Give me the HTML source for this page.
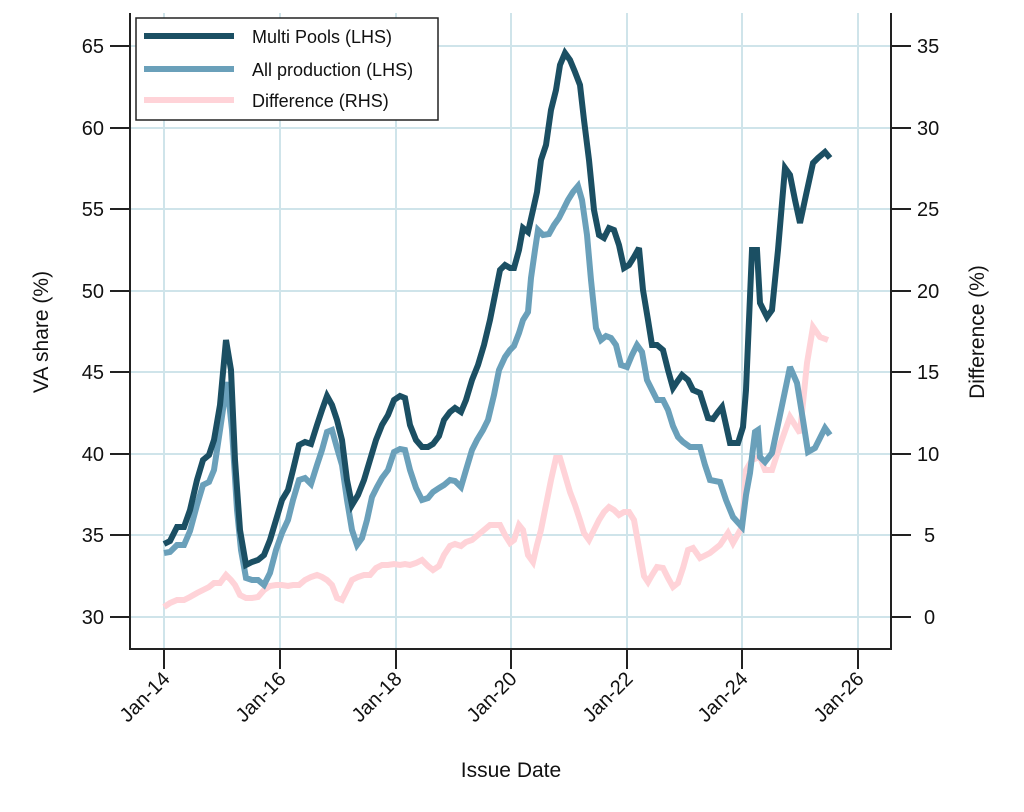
<!DOCTYPE html>
<html><head><meta charset="utf-8"><style>
html,body{margin:0;padding:0;background:#fff;}
svg{display:block;font-family:"Liberation Sans",sans-serif;}
</style></head><body>
<svg width="1024" height="812" viewBox="0 0 1024 812">
<g stroke="#cfe4ea" stroke-width="2">
<line x1="164" y1="13" x2="164" y2="649"/><line x1="280" y1="13" x2="280" y2="649"/><line x1="396" y1="13" x2="396" y2="649"/><line x1="511" y1="13" x2="511" y2="649"/><line x1="627" y1="13" x2="627" y2="649"/><line x1="742" y1="13" x2="742" y2="649"/><line x1="858" y1="13" x2="858" y2="649"/>
<line x1="130" y1="46" x2="891" y2="46"/><line x1="130" y1="128" x2="891" y2="128"/><line x1="130" y1="209" x2="891" y2="209"/><line x1="130" y1="291" x2="891" y2="291"/><line x1="130" y1="372" x2="891" y2="372"/><line x1="130" y1="454" x2="891" y2="454"/><line x1="130" y1="535" x2="891" y2="535"/><line x1="130" y1="617" x2="891" y2="617"/>
</g>
<g stroke="#222" stroke-width="2" fill="none">
<polyline points="130,13 130,649 891,649 891,13"/>
<line x1="110" y1="46" x2="130" y2="46"/><line x1="110" y1="128" x2="130" y2="128"/><line x1="110" y1="209" x2="130" y2="209"/><line x1="110" y1="291" x2="130" y2="291"/><line x1="110" y1="372" x2="130" y2="372"/><line x1="110" y1="454" x2="130" y2="454"/><line x1="110" y1="535" x2="130" y2="535"/><line x1="110" y1="617" x2="130" y2="617"/>
<line x1="891" y1="46" x2="911" y2="46"/><line x1="891" y1="128" x2="911" y2="128"/><line x1="891" y1="209" x2="911" y2="209"/><line x1="891" y1="291" x2="911" y2="291"/><line x1="891" y1="372" x2="911" y2="372"/><line x1="891" y1="454" x2="911" y2="454"/><line x1="891" y1="535" x2="911" y2="535"/><line x1="891" y1="617" x2="911" y2="617"/>
<line x1="164" y1="649" x2="164" y2="669"/><line x1="280" y1="649" x2="280" y2="669"/><line x1="396" y1="649" x2="396" y2="669"/><line x1="511" y1="649" x2="511" y2="669"/><line x1="627" y1="649" x2="627" y2="669"/><line x1="742" y1="649" x2="742" y2="669"/><line x1="858" y1="649" x2="858" y2="669"/>
</g>
<g font-size="20" fill="#111" text-anchor="end">
<text x="104" y="53">65</text><text x="104" y="135">60</text><text x="104" y="216">55</text><text x="104" y="298">50</text><text x="104" y="379">45</text><text x="104" y="461">40</text><text x="104" y="542">35</text><text x="104" y="624">30</text>
</g>
<g font-size="20" fill="#111" text-anchor="start">
<text x="917" y="53">35</text><text x="917" y="135">30</text><text x="917" y="216">25</text><text x="917" y="298">20</text><text x="917" y="379">15</text><text x="917" y="461">10</text><text x="924" y="542">5</text><text x="924" y="624">0</text>
</g>
<g font-size="20" fill="#111" text-anchor="end">
<text transform="translate(171,680) rotate(-45)">Jan-14</text>
<text transform="translate(287,680) rotate(-45)">Jan-16</text>
<text transform="translate(403,680) rotate(-45)">Jan-18</text>
<text transform="translate(518,680) rotate(-45)">Jan-20</text>
<text transform="translate(634,680) rotate(-45)">Jan-22</text>
<text transform="translate(749,680) rotate(-45)">Jan-24</text>
<text transform="translate(865,680) rotate(-45)">Jan-26</text>
</g>
<text x="511" y="777" font-size="21" text-anchor="middle" fill="#111">Issue Date</text>
<text transform="translate(48,332) rotate(-90)" font-size="21" text-anchor="middle" fill="#111">VA share (%)</text>
<text transform="translate(984,332) rotate(-90)" font-size="21" text-anchor="middle" fill="#111">Difference (%)</text>
<g fill="none" stroke-width="6" stroke-linejoin="miter" stroke-miterlimit="3">
<polyline stroke="#ffd3d8" points="164,607 170,603 177,600 184,600 190,597 197,593 203,590 209,587 214,583 220,583 226,575 231,580 235,585 240,595 246,598 252,598 258,597 264,590 270,586 276,585 282,585 288,586 293,585 299,585 305,580 311,577 317,575 322,577 327,580 332,585 337,598 342,600 347,590 352,580 358,577 364,575 370,575 376,568 382,565 388,565 394,564 400,565 405,564 410,565 416,563 422,560 428,566 433,570 439,566 444,555 450,546 455,544 461,546 466,542 472,540 478,535 484,530 490,525 495,525 500,525 505,535 510,543 514,540 519,525 523,530 528,555 533,562 537,545 541,530 546,505 551,480 556,458 560,458 565,475 570,492 575,505 580,520 584,533 589,540 594,530 599,520 604,512 609,507 614,510 619,515 624,512 629,512 634,520 639,548 644,576 648,582 652,575 657,567 663,568 668,578 673,587 678,583 683,568 688,550 693,548 700,558 710,553 720,545 728,533 733,543 742,527 746,470 752,460 760,457 765,470 772,470 780,445 790,417 800,433 807,363 813,327 820,337 828,340"/>
<polyline stroke="#6aa0ba" points="164,553 170,552 177,545 184,545 190,531 197,505 203,485 209,482 214,470 220,430 227,382 232,430 237,510 241,550 246,578 252,580 258,580 264,585 270,573 276,550 282,533 288,520 293,500 299,480 305,478 311,484 317,465 322,450 327,432 332,430 337,448 342,465 347,500 352,530 357,545 362,538 367,520 372,497 377,487 382,478 388,470 394,452 400,449 405,450 410,470 416,488 422,500 428,498 433,492 439,488 444,485 450,480 455,481 461,487 466,470 472,450 477,440 483,430 488,420 494,395 499,370 505,357 510,350 514,346 519,333 523,320 528,312 531,278 535,250 538,230 543,235 549,234 554,225 559,218 563,210 568,200 573,192 578,186 582,200 587,235 591,280 596,328 601,340 606,336 611,338 616,345 621,365 627,367 632,355 637,345 642,352 647,380 652,390 657,400 663,400 668,410 673,426 678,437 683,442 690,447 700,447 705,465 710,480 720,482 726,500 733,517 742,527 746,495 750,473 755,432 758,430 760,457 765,462 772,453 780,415 790,367 797,383 803,420 808,452 815,448 820,438 825,428 830,435"/>
<polyline stroke="#1b4f63" points="164,544 170,541 177,527 184,527 190,510 197,480 203,460 209,455 214,440 220,405 226,340 231,370 235,460 240,530 246,565 252,562 258,560 264,555 270,540 276,520 282,500 288,490 293,470 299,445 305,442 311,444 317,425 322,410 327,396 332,405 337,420 342,440 347,480 352,505 358,495 364,480 370,460 376,440 382,425 388,415 394,400 400,396 405,398 410,425 416,440 422,447 428,447 433,444 439,436 444,420 450,412 455,408 461,412 466,400 472,380 478,365 484,345 490,320 495,295 500,270 505,265 510,268 514,268 519,250 523,228 528,232 533,210 537,192 541,160 546,145 551,110 556,90 560,65 565,53 570,60 575,72 580,85 584,120 589,160 594,210 599,235 604,238 609,228 614,230 619,245 624,268 629,265 634,257 639,248 643,290 648,320 652,345 657,345 663,350 668,370 673,388 677,382 682,375 688,380 693,390 700,393 708,418 713,419 718,412 722,407 730,443 738,443 743,427 746,390 752,250 757,250 760,303 767,317 772,310 778,250 785,168 790,175 795,200 800,223 806,195 813,163 818,158 825,152 830,158"/>
</g>
<rect x="136" y="18" width="302" height="102" fill="#fff" stroke="#222" stroke-width="1.5"/>
<g stroke-width="6">
<line x1="144" y1="36" x2="234" y2="36" stroke="#1b4f63"/>
<line x1="144" y1="69" x2="234" y2="69" stroke="#6aa0ba"/>
<line x1="144" y1="100" x2="234" y2="100" stroke="#ffd3d8"/>
</g>
<g font-size="18" fill="#111">
<text x="252" y="43">Multi Pools (LHS)</text>
<text x="252" y="76">All production (LHS)</text>
<text x="252" y="107">Difference (RHS)</text>
</g>
</svg>
</body></html>
